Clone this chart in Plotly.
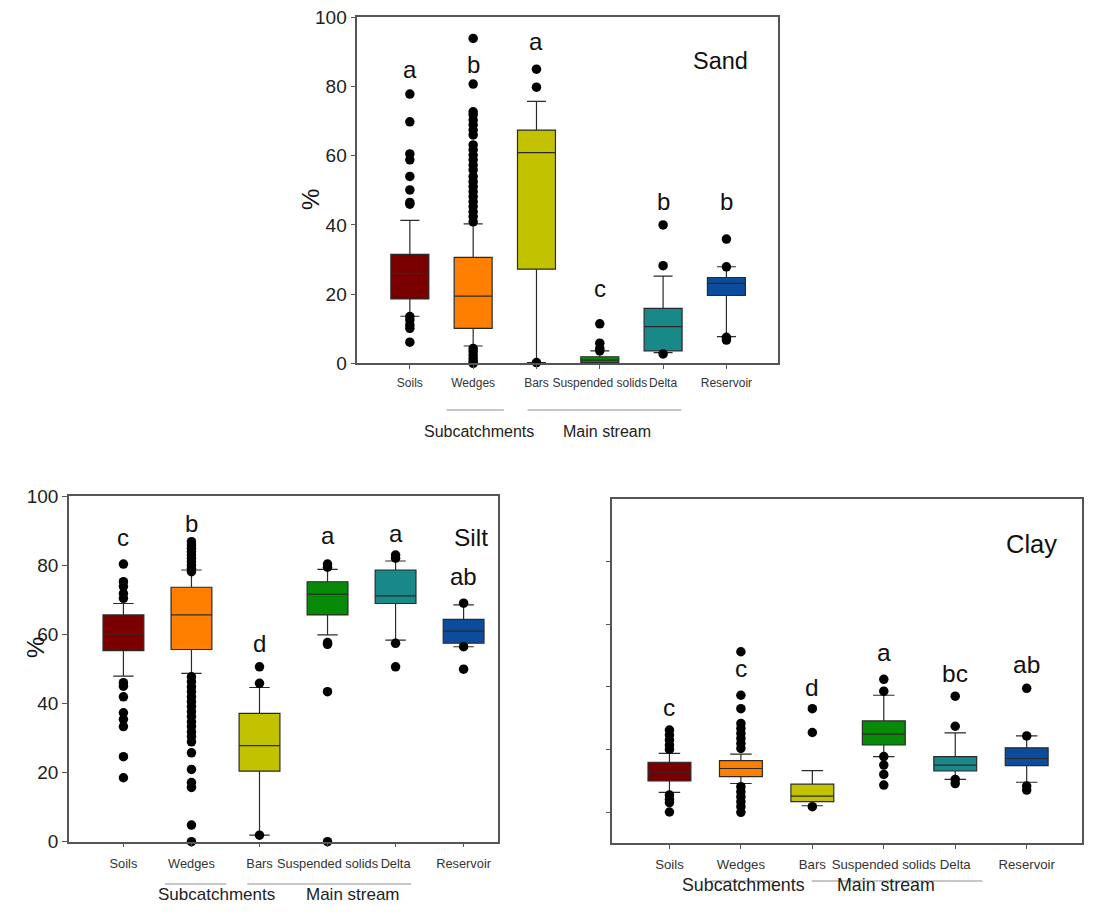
import plotly.graph_objects as go

W, H = 1093, 920

categories = ["Soils", "Wedges", "Bars", "Suspended solids", "Delta", "Reservoir"]
colors = ["#7a0000", "#ff8000", "#c2c200", "#078a07", "#188888", "#0b4c9c"]

# ---- Sand ----
sand_q1 = [18.6, 10.1, 27.2, 0.2, 3.6, 19.6]
sand_median = [26.0, 19.4, 60.9, 0.9, 10.6, 23.1]
sand_q3 = [31.5, 30.6, 67.4, 1.9, 15.9, 24.8]
sand_lower = [13.6, 5.0, 0.2, 0.0, 3.1, 7.7]
sand_upper = [41.3, 40.3, 75.7, 3.6, 25.2, 27.9]
sand_outliers = [
    [77.8, 69.8, 60.5, 58.8, 54.0, 50.1, 46.5, 46.0, 13.5, 12.5, 11.1, 10.1, 6.1],
    [93.9, 80.7, 72.7, 71.8, 70.3, 68.9, 67.4, 66.0, 63.1, 61.7, 60.2, 58.8, 57.3,
     55.9, 54.0, 52.5, 51.1, 49.6, 48.2, 46.7, 45.3, 43.8, 42.4, 40.9,
     4.3, 3.4, 2.4, 1.4, 0.5, 0.0],
    [85.0, 79.8, 0.2],
    [11.4, 5.8, 4.3, 3.6],
    [40.0, 28.2, 2.7],
    [35.9, 27.9, 7.5, 6.7],
]
sand_letters = ["a", "b", "a", "c", "b", "b"]
sand_letter_y = [85.0, 86.5, 93.0, 21.6, 46.7, 46.7]

# ---- Silt ----
silt_q1 = [55.3, 55.6, 20.4, 65.6, 68.9, 57.4]
silt_median = [60.1, 65.6, 27.8, 71.6, 71.1, 60.9]
silt_q3 = [65.6, 73.6, 37.1, 75.2, 78.6, 64.3]
silt_lower = [47.9, 48.7, 1.9, 59.8, 58.3, 56.4]
silt_upper = [68.9, 78.6, 44.6, 78.8, 81.2, 68.5]
silt_outliers = [
    [80.3, 75.2, 73.8, 71.8, 70.4, 46.0, 45.0, 41.9, 37.3, 35.4, 33.3, 24.6, 18.5],
    [86.8, 85.8, 84.9, 83.9, 82.9, 82.0, 81.0, 80.0, 79.1, 78.1,
     47.7, 46.3, 44.8, 43.4, 41.9, 40.5, 39.1, 37.6, 36.2, 34.7, 33.3, 31.8, 30.4,
     28.9, 25.7, 20.9, 17.1, 15.7, 4.8, 0.0],
    [50.6, 45.8, 1.9],
    [80.3, 79.4, 57.6, 57.1, 43.4, 0.0],
    [82.9, 82.0, 57.4, 50.6],
    [69.0, 56.4, 49.9],
]
silt_letters = ["c", "b", "d", "a", "a", "ab"]
silt_letter_y = [88.0, 92.1, 57.4, 88.7, 89.1, 76.8]

# ---- Clay ----
clay_q1 = [9.9, 11.3, 3.3, 21.4, 13.1, 14.8]
clay_median = [12.7, 13.9, 5.1, 24.9, 15.0, 17.1]
clay_q3 = [15.9, 16.4, 8.9, 29.1, 17.7, 20.5]
clay_lower = [6.3, 9.1, 2.0, 17.7, 10.4, 9.5]
clay_upper = [18.7, 18.5, 13.2, 37.3, 25.3, 24.3]
clay_outliers = [
    [26.2, 24.6, 23.0, 21.4, 20.0, 5.4, 4.0, 3.0, 0.0],
    [51.2, 37.3, 33.0, 28.3, 26.7, 25.1, 23.5, 21.9, 20.3, 8.1, 6.5, 4.9, 3.3, 1.7, -0.1],
    [33.0, 25.4, 1.7],
    [42.4, 38.6, 17.7, 15.0, 12.0, 8.6],
    [37.0, 27.4, 10.4, 9.1],
    [39.5, 24.3, 8.3, 7.0],
]
clay_letters = ["c", "c", "d", "a", "bc", "ab"]
clay_letter_y = [33.3, 45.8, 39.8, 51.1, 44.2, 47.2]

FONT = "Liberation Sans, Arial, sans-serif"

fig = go.Figure()

panels = [
    dict(name="Sand", sfx="", q1=sand_q1, med=sand_median, q3=sand_q3, lo=sand_lower,
         hi=sand_upper, out=sand_outliers, letters=sand_letters, ly=sand_letter_y,
         xdom=(357.3, 777.7), ydom=(17.3, 363.3), xr=[-0.83, 5.81], yr=[0, 100],
         tickvals=[0, 20, 40, 60, 80, 100], labels=True,
         title_pos=(4.91, 87.5), title_size=23.5, pct=(295, 187),
         cat_size=12.0, grp_size=16.0, letter_size=24, standoff=4,
         line_y=410, text_y=432, sub=(0.58, 1.485), main=(1.86, 4.29), subt=1.09, maint=3.12),
    dict(name="Silt", sfx="2", q1=silt_q1, med=silt_median, q3=silt_q3, lo=silt_lower,
         hi=silt_upper, out=silt_outliers, letters=silt_letters, ly=silt_letter_y,
         xdom=(69.0, 498.3), ydom=(496.0, 841.7), xr=[-0.8, 5.51], yr=[0, 100],
         tickvals=[0, 20, 40, 60, 80, 100], labels=True,
         title_pos=(5.11, 88.0), title_size=24.5, pct=(20, 660),
         cat_size=12.8, grp_size=17.0, letter_size=24, standoff=5,
         line_y=884, text_y=906, sub=(0.61, 1.51), main=(1.82, 4.23), subt=1.37, maint=3.38),
    dict(name="Clay", sfx="3", q1=clay_q1, med=clay_median, q3=clay_q3, lo=clay_lower,
         hi=clay_upper, out=clay_outliers, letters=clay_letters, ly=clay_letter_y,
         xdom=(612.3, 1081.7), ydom=(499.0, 843.3), xr=[-0.8, 5.77], yr=[-10, 100],
         tickvals=[0, 20, 40, 60, 80], labels=False,
         title_pos=(5.07, 85.5), title_size=25.5, pct=None,
         cat_size=13.2, grp_size=17.8, letter_size=24.5, standoff=4,
         line_y=881, text_y=897, sub=(0.57, 1.46), main=(1.99, 4.38), subt=1.04, maint=3.03),
]

annotations = []
shapes = []
layout_axes = {}

for p in panels:
    xa, ya = "x" + p["sfx"], "y" + p["sfx"]
    for i, cat in enumerate(categories):
        fig.add_trace(go.Box(
            x=[cat], q1=[p["q1"][i]], median=[p["med"][i]], q3=[p["q3"][i]],
            lowerfence=[p["lo"][i]], upperfence=[p["hi"][i]],
            boxpoints=False, fillcolor=colors[i],
            line=dict(color="#2a2a2a", width=1.2), width=0.6, whiskerwidth=0.5,
            xaxis=xa, yaxis=ya, showlegend=False, hoverinfo="skip"))
        fig.add_trace(go.Scatter(
            x=[cat] * len(p["out"][i]), y=p["out"][i], mode="markers",
            marker=dict(color="black", size=9.5), cliponaxis=False,
            xaxis=xa, yaxis=ya, showlegend=False, hoverinfo="skip"))
        annotations.append(dict(
            x=cat, y=p["ly"][i], xref=xa, yref=ya, text=p["letters"][i],
            showarrow=False, font=dict(family=FONT, size=p["letter_size"], color="#111")))
    annotations.append(dict(
        x=p["title_pos"][0], y=p["title_pos"][1], xref=xa, yref=ya, text=p["name"],
        showarrow=False, font=dict(family=FONT, size=p["title_size"], color="#111")))
    if p["pct"]:
        annotations.append(dict(
            x=p["pct"][0] / W, y=1 - p["pct"][1] / H, xref="paper", yref="paper",
            text="%", textangle=-90, showarrow=False,
            font=dict(family=FONT, size=24, color="#111")))
    ly = 1 - p["line_y"] / H
    for (a, b) in (p["sub"], p["main"]):
        shapes.append(dict(type="line", xref=xa, yref="paper", x0=a, x1=b, y0=ly, y1=ly,
                           line=dict(color="#b5b5b5", width=1.5)))
    ty = 1 - p["text_y"] / H
    for txt, tx in (("Subcatchments", p["subt"]), ("Main stream", p["maint"])):
        annotations.append(dict(x=tx, y=ty, xref=xa, yref="paper", text=txt,
                                showarrow=False,
                                font=dict(family=FONT, size=p["grp_size"], color="#222")))

    layout_axes["xaxis" + p["sfx"]] = dict(
        domain=[p["xdom"][0] / W, p["xdom"][1] / W], anchor=ya, type="category",
        categoryorder="array", categoryarray=categories, range=p["xr"],
        showline=True, mirror=True, linecolor="#555", linewidth=1.5,
        ticks="outside", ticklen=4, tickcolor="#555", tickwidth=1.2, tickangle=0,
        tickfont=dict(family=FONT, size=p["cat_size"], color="#333"),
        ticklabelstandoff=p["standoff"],
        showgrid=False, zeroline=False, fixedrange=True, automargin=False)
    layout_axes["yaxis" + p["sfx"]] = dict(
        domain=[1 - p["ydom"][1] / H, 1 - p["ydom"][0] / H], anchor=xa, range=p["yr"],
        tickvals=p["tickvals"], showticklabels=p["labels"],
        showline=True, mirror=True, linecolor="#555", linewidth=1.5,
        ticks="outside", ticklen=5, tickcolor="#555", tickwidth=1.2,
        tickfont=dict(family=FONT, size=19, color="#222"),
        showgrid=False, zeroline=False, fixedrange=True, automargin=False)

fig.update_layout(
    width=W, height=H, margin=dict(l=0, r=0, t=0, b=0, autoexpand=False),
    paper_bgcolor="white", plot_bgcolor="white",
    font=dict(family=FONT), boxmode="overlay",
    annotations=annotations, shapes=shapes, **layout_axes)

fig.write_html("out.html")
